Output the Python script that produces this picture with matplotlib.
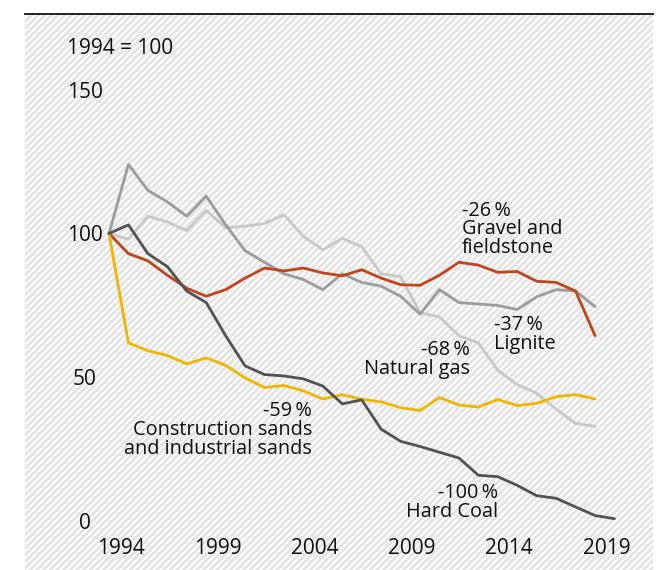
import matplotlib
matplotlib.use('Agg')
import matplotlib.pyplot as plt
import matplotlib.transforms as mtransforms
from matplotlib.patches import Rectangle

plt.rcParams['font.family'] = ['Open Sans', 'DejaVu Sans']
plt.rcParams['hatch.linewidth'] = 2.0

# index values, 1994 = 100
years = list(range(1994, 2020))
coal_years = list(range(1994, 2021))

lignite = [100, 124, 115, 111, 106, 113, 103, 94, 90, 86, 84, 80.5, 86, 83,
           81.7, 78.2, 72, 80.5, 76, 75.5, 75, 73.6, 78, 80.5, 80, 74.6]
natural_gas = [100, 98, 106, 104, 101, 108, 102, 102.5, 103.5, 106.5, 99, 94.3,
               98.3, 95.4, 86, 85, 72.5, 71, 64.5, 62, 52.5, 47.5, 44.5, 39, 34, 33]
gravel = [100, 93, 90.5, 85.5, 81, 78.2, 80.5, 84.5, 88, 87, 88, 86.3, 85.3,
          87.4, 84.5, 82.2, 82, 85.5, 90, 89, 86.5, 86.8, 83.4, 83, 80, 64.5]
sands = [100, 62, 59.3, 57.6, 54.7, 56.8, 54.2, 49.8, 46.5, 47.2, 45.3, 42.5,
         44, 42.4, 41.5, 39.5, 38.5, 43, 40.4, 39.7, 42.3, 40.2, 41, 43.3, 44, 42.5]
hard_coal = [100, 103, 93, 88.5, 80, 76, 64.5, 54, 51, 50.5, 49.5, 47, 40.8,
             42.2, 32, 27.8, 26, 24, 22, 16, 15.5, 12.5, 8.9, 8, 5, 2, 0.9]

tick_years = [1994, 1999, 2004, 2009, 2014, 2019]
y_ticks = [0, 50, 100, 150]

c_lignite = '#9c9c9c'
c_gas = '#c8c8c8'
c_gravel = '#c1441d'
c_sands = '#f2b600'
c_coal = '#525252'

fig = plt.figure(figsize=(6.71, 5.70), dpi=100)

# hatched background panel with black top rule
bg = fig.add_axes([25 / 671, 0, 628 / 671, 556 / 570])
bg.set_xlim(0, 1)
bg.set_ylim(0, 1)
bg.add_patch(Rectangle((0, 0), 1, 1, facecolor='white', edgecolor='#e4e4e4',
                       hatch='/////', linewidth=0, transform=bg.transAxes))
bg.set_xticks([])
bg.set_yticks([])
for s in ['left', 'right', 'bottom']:
    bg.spines[s].set_visible(False)
bg.spines['top'].set_linewidth(1.3)
bg.spines['top'].set_color('#111111')

# data axes
ax = fig.add_axes([60.4 / 671, (570 - 550.1) / 570, 573.5 / 671, 0.919])
ax.patch.set_alpha(0)
ax.set_xlim(1991.5, 2021)
ax.set_ylim(-10, 172)

lw = 2.0
kw = dict(lw=lw, solid_joinstyle='round', solid_capstyle='round')
ax.plot(years, natural_gas, color=c_gas, **kw)
ax.plot(years, lignite, color=c_lignite, **kw)
ax.plot(years, gravel, color=c_gravel, **kw)
ax.plot(years, sands, color=c_sands, **kw)
ax.plot(coal_years, hard_coal, color=c_coal, **kw)

for s in ax.spines.values():
    s.set_visible(False)

ax.set_xticks(tick_years)
ax.set_xticklabels([str(y) for y in tick_years])
ax.set_yticks(y_ticks)
ax.set_yticklabels([str(v) for v in y_ticks])
ax.tick_params(axis='both', length=0, labelsize=15, labelcolor='#111111')
ax.tick_params(axis='y', pad=-17.4)
ax.tick_params(axis='x', pad=-0.8)
shift = mtransforms.ScaledTranslation(11.5 / 100, 0, fig.dpi_scale_trans)
for lab in ax.get_xticklabels():
    lab.set_va('center')
    lab.set_transform(lab.get_transform() + shift)
for lab in ax.get_yticklabels():
    lab.set_ha('center')

fs = 14.3
tc = '#111111'
ls = 0.92
ax.text(1991.85, 164.3, '1994 = 100', fontsize=15, color=tc, ha='left', va='center')
ax.text(2012.16, 101.4, '-26\u2009%\nGravel and\nfieldstone', fontsize=fs, color=tc,
        ha='left', va='center', linespacing=ls)
ax.text(2013.8, 64.9, '-37\u2009%\nLignite', fontsize=fs, color=tc,
        ha='left', va='center', linespacing=ls)
ax.text(2012.57, 56.2, '-68\u2009%\nNatural gas', fontsize=fs, color=tc,
        ha='right', va='center', multialignment='right', linespacing=ls)
ax.text(2004.44, 31.8, '-59\u2009%\nConstruction sands\nand industrial sands', fontsize=fs,
        color=tc, ha='right', va='center', multialignment='right', linespacing=ls)
ax.text(2014.0, 6.5, '-100\u2009%\nHard Coal', fontsize=fs, color=tc,
        ha='right', va='center', multialignment='right', linespacing=ls)

fig.savefig('out.png', dpi=100)
